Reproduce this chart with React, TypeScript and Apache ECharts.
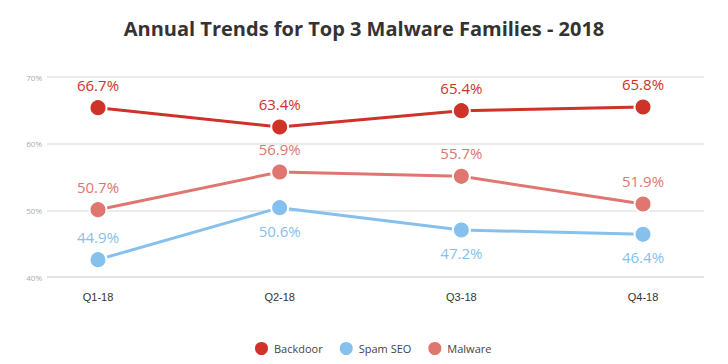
import React, { useEffect, useRef } from "react";
import * as echarts from "echarts";

const categories = ["Q1-18", "Q2-18", "Q3-18", "Q4-18"];
const backdoorValues = [65.4, 62.5, 64.95, 65.5];
const spamSeoValues = [42.6, 50.4, 47.05, 46.4];
const malwareValues = [50.1, 55.75, 55.1, 50.95];
const backdoorLabels = ["66.7%", "63.4%", "65.4%", "65.8%"];
const spamSeoLabels = ["44.9%", "50.6%", "47.2%", "46.4%"];
const malwareLabels = ["50.7%", "56.9%", "55.7%", "51.9%"];
const spamSeoLabelPos = ["top", "bottom", "bottom", "bottom"];
const yTicks = [40, 50, 60, 70];

const FONT = "'Open Sans', 'Noto Sans', sans-serif";

function makeSeries(name: string, values: number[], labels: string[], color: string, positions: string[]) {
  return {
    name,
    type: "line",
    xAxisIndex: 1,
    yAxisIndex: 1,
    data: values.map((v, i) => ({
      value: v,
      label: { position: positions[i] },
    })),
    symbol: "circle",
    symbolSize: 17,
    lineStyle: { color, width: 3 },
    itemStyle: { color, borderColor: "#fff", borderWidth: 2 },
    label: {
      show: true,
      distance: 6,
      color,
      fontFamily: FONT,
      fontSize: 15,
      formatter: (p: any) => labels[p.dataIndex],
    },
    emphasis: { disabled: true },
    z: 3,
  };
}

export default function App() {
  const ref = useRef<HTMLDivElement>(null);
  useEffect(() => {
    if (!ref.current) return;
    const chart = echarts.init(ref.current, undefined, { renderer: "svg" });
    chart.setOption({
      animation: false,
      backgroundColor: "#fff",
      title: {
        text: "Annual Trends for Top 3 Malware Families - 2018",
        left: "center",
        top: 13,
        textStyle: { fontFamily: FONT, fontWeight: "bold", fontSize: 20, color: "#333" },
      },
      legend: {
        top: 335,
        left: 248,
        icon: "circle",
        itemWidth: 15,
        itemHeight: 15,
        itemGap: 15,
        textStyle: { fontFamily: FONT, fontSize: 11, color: "#444" },
        data: ["Backdoor", "Spam SEO", "Malware"],
      },
      grid: [
        { left: 47, right: 24, top: 77, height: 200 },
        { left: 98, right: 85, top: 77, height: 200 },
      ],
      xAxis: [
        { gridIndex: 0, type: "category", data: categories, show: false },
        {
          gridIndex: 1,
          type: "category",
          data: categories,
          boundaryGap: false,
          axisLine: { show: false },
          axisTick: { show: false },
          axisLabel: { margin: 14, fontFamily: "'Liberation Sans', Arial, sans-serif", fontSize: 11, color: "#333" },
        },
      ],
      yAxis: [
        {
          gridIndex: 0,
          type: "value",
          min: 40,
          max: 70,
          interval: 10,
          axisLine: { show: false },
          axisTick: { show: false },
          axisLabel: {
            margin: 5,
            fontFamily: FONT,
            fontSize: 8,
            color: "#aaa",
            formatter: (v: number) => (yTicks.includes(v) ? v + "%" : ""),
          },
          splitLine: {
            lineStyle: {
              color: ["#e3e3e3", "#ebebeb", "#ebebeb", "#ebebeb"],
              width: 2,
            },
          },
        },
        { gridIndex: 1, type: "value", min: 40, max: 70, show: false, splitLine: { show: false } },
      ],
      series: [
        makeSeries("Backdoor", backdoorValues, backdoorLabels, "#cf3229", ["top", "top", "top", "top"]),
        makeSeries("Spam SEO", spamSeoValues, spamSeoLabels, "#86c0ec", spamSeoLabelPos),
        makeSeries("Malware", malwareValues, malwareLabels, "#e07670", ["top", "top", "top", "top"]),
      ],
    });
    return () => chart.dispose();
  }, []);
  return (
    <div
      ref={ref}
      style={{ position: "fixed", left: 0, top: 0, width: 728, height: 364 }}
    />
  );
}
